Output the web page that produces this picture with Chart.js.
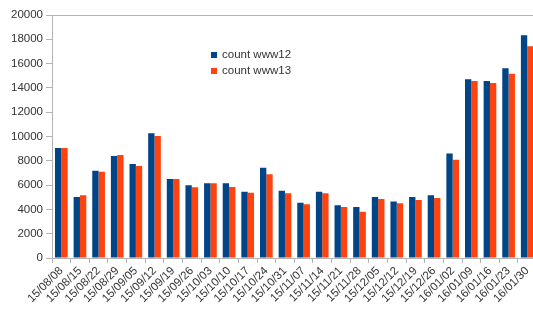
<!DOCTYPE html>
<html>
<head>
<meta charset="utf-8">
<script src="https://cdn.jsdelivr.net/npm/chart.js@4/dist/chart.umd.min.js"></script>
<style>
html,body{margin:0;padding:0;background:#fff;overflow:hidden;}
#wrap{position:relative;width:538px;height:314px;}
</style>
</head>
<body>
<div id="wrap"><canvas id="c" width="538" height="314"></canvas></div>
<script>
const categories = ["15/08/08","15/08/15","15/08/22","15/08/29","15/09/05","15/09/12","15/09/19","15/09/26","15/10/03","15/10/10","15/10/17","15/10/24","15/10/31","15/11/07","15/11/14","15/11/21","15/11/28","15/12/05","15/12/12","15/12/19","15/12/26","16/01/02","16/01/09","16/01/16","16/01/23","16/01/30"];
const www12 = [9050,5020,7190,8400,7740,10260,6500,5980,6150,6150,5460,7430,5540,4550,5460,4340,4200,5020,4640,5020,5160,8610,14710,14570,15610,18330];
const www13 = [9050,5160,7100,8480,7570,10040,6500,5820,6150,5840,5380,6890,5320,4420,5320,4200,3810,4860,4500,4770,4940,8090,14570,14400,15170,17420];
const seriesNames = ["count www12","count www13"];
const seriesColors = ["#004586","#ff420e"];

const FONT = "'Liberation Sans', Arial, sans-serif";
const TXT = "#333333";
const AX = "#b3b3b3";

const legendPlugin = {
  id: 'inlegend',
  afterDraw(chart) {
    const ctx = chart.ctx;
    ctx.save();
    ctx.font = "11.5px " + FONT;
    ctx.textBaseline = "middle";
    chart.data.datasets.forEach((ds, i) => {
      const y = 55 + i * 16;
      ctx.fillStyle = ds.backgroundColor;
      ctx.fillRect(211, y - 3, 6, 6);
      ctx.fillStyle = TXT;
      ctx.fillText(ds.label, 222, y);
    });
    ctx.restore();
  }
};

new Chart(document.getElementById('c'), {
  type: 'bar',
  data: {
    labels: categories,
    datasets: [
      {label: seriesNames[0], data: www12, backgroundColor: seriesColors[0]},
      {label: seriesNames[1], data: www13, backgroundColor: seriesColors[1]}
    ]
  },
  options: {
    responsive: false,
    animation: false,
    devicePixelRatio: 1,
    layout: {padding: {top: 15, right: 0, left: 0, bottom: 0}},
    categoryPercentage: 0.68,
    barPercentage: 1.0,
    plugins: {legend: {display: false}, tooltip: {enabled: false}},
    scales: {
      x: {
        grid: {offset: true, drawOnChartArea: false, tickLength: 5, tickColor: AX, lineWidth: 1},
        border: {color: AX},
        ticks: {color: TXT, font: {family: FONT, size: 11.5}, minRotation: 45, maxRotation: 45, padding: 1, autoSkip: false},
        afterFit(s) { s.height = 56; }
      },
      y: {
        min: 0, max: 20000,
        ticks: {stepSize: 2000, color: TXT, font: {family: FONT, size: 11.5}, padding: 3,
                callback: (v) => String(v)},
        grid: {
          color: (c) => (c.tick && c.tick.value === 20000) ? AX : 'rgba(0,0,0,0)',
          tickColor: AX, tickLength: 6
        },
        border: {color: AX},
        afterFit(s) { s.width = 52; }
      }
    }
  },
  plugins: [legendPlugin]
});
</script>
</body>
</html>
